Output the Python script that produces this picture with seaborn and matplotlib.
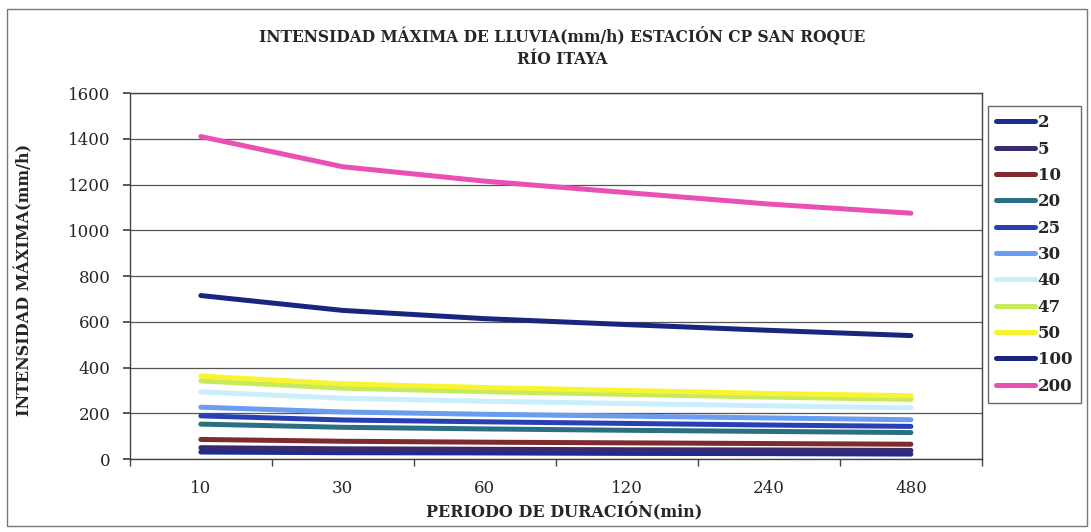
import matplotlib
matplotlib.use("Agg")
import matplotlib.pyplot as plt
from matplotlib.patches import Rectangle
from matplotlib.ticker import FixedLocator, MultipleLocator
import pandas as pd
import seaborn as sns

# Durations (min) and return periods (years)
durations = ["10", "30", "60", "120", "240", "480"]
periods = ["2", "5", "10", "20", "25", "30", "40", "47", "50", "100", "200"]

# Maximum rainfall intensity (mm/h) per return period
i_2 = [31, 28, 27, 25, 24, 22]
i_5 = [50, 45, 43, 41, 40, 38]
i_10 = [86, 78, 74, 71, 68, 65]
i_20 = [153, 139, 132, 126, 121, 116]
i_25 = [189, 171, 163, 156, 149, 143]
i_30 = [227, 206, 196, 188, 180, 172]
i_40 = [294, 266, 253, 243, 233, 224]
i_47 = [342, 310, 295, 283, 271, 261]
i_50 = [363, 329, 313, 300, 287, 277]
i_100 = [715, 650, 614, 588, 563, 540]
i_200 = [1410, 1278, 1215, 1165, 1115, 1075]

series = [i_2, i_5, i_10, i_20, i_25, i_30, i_40, i_47, i_50, i_100, i_200]

colors = ["#1d2c8f", "#3b2a6e", "#7d2b2e", "#2a6f82", "#2740b4", "#6a9cf0",
          "#c9eefc", "#c6ea5e", "#f8f530", "#1a2580", "#ea4fb4"]

rows = []
for p, vals in zip(periods, series):
    for d, v in zip(durations, vals):
        rows.append({"duracion": d, "intensidad": v, "periodo": p})
df = pd.DataFrame(rows)

sns.set_theme(style="white")
serif = ["DejaVu Serif"]
plt.rcParams["font.family"] = serif

fig = plt.figure(figsize=(10.91, 5.32), dpi=100)
ax = fig.add_axes([0.119, 0.137, 0.781, 0.688])

sns.lineplot(data=df, x="duracion", y="intensidad", hue="periodo",
             hue_order=periods, palette=colors, linewidth=3.6, sort=False,
             ax=ax, legend=True)

ax.set_xlim(-0.5, len(durations) - 0.5)
ax.set_ylim(0, 1600)
ax.yaxis.set_major_locator(MultipleLocator(200))
ax.grid(axis="y", color="#555555", linewidth=0.9)
ax.grid(axis="x", visible=False)

ax.set_xticks(range(len(durations)))
ax.set_xticklabels(durations)
ax.xaxis.set_minor_locator(FixedLocator([i - 0.5 for i in range(len(durations) + 1)]))
ax.tick_params(axis="x", which="major", length=0, pad=15, labelsize=12)
ax.tick_params(axis="x", which="minor", length=5, direction="out", color="#444444", bottom=True)
ax.tick_params(axis="y", length=5, direction="out", color="#444444", left=True, pad=9, labelsize=12)

for s in ax.spines.values():
    s.set_color("#444444")
    s.set_linewidth(1.0)

ax.set_xlabel("PERIODO DE DURACIÓN(min)", fontsize=11.5, fontweight="bold")
ax.set_ylabel("INTENSIDAD MÁXIMA(mm/h)", fontsize=11.5, fontweight="bold")
ax.xaxis.set_label_coords(0.51, -0.116)
ax.yaxis.set_label_coords(-0.113, 0.49)

fig.text(0.515, 0.932, "INTENSIDAD MÁXIMA DE LLUVIA(mm/h) ESTACIÓN CP SAN ROQUE",
         ha="center", va="center", fontsize=11.2, fontweight="bold")
fig.text(0.515, 0.889, "RÍO ITAYA", ha="center", va="center", fontsize=11.2, fontweight="bold")

handles, labels = ax.get_legend_handles_labels()
ax.legend(handles, labels, loc="upper left", bbox_to_anchor=(1.007, 0.965),
          frameon=True, fancybox=False, edgecolor="#444444",
          prop={"size": 12, "weight": "bold"},
          handlelength=2.3, handletextpad=0.2, labelspacing=0.56,
          borderpad=0.5, borderaxespad=0)

# Outer chart frame
fig.patches.append(Rectangle((0.006, 0.012), 0.99, 0.972, transform=fig.transFigure,
                             fill=False, edgecolor="#777777", linewidth=1.0))

fig.savefig("out.png", dpi=100)
